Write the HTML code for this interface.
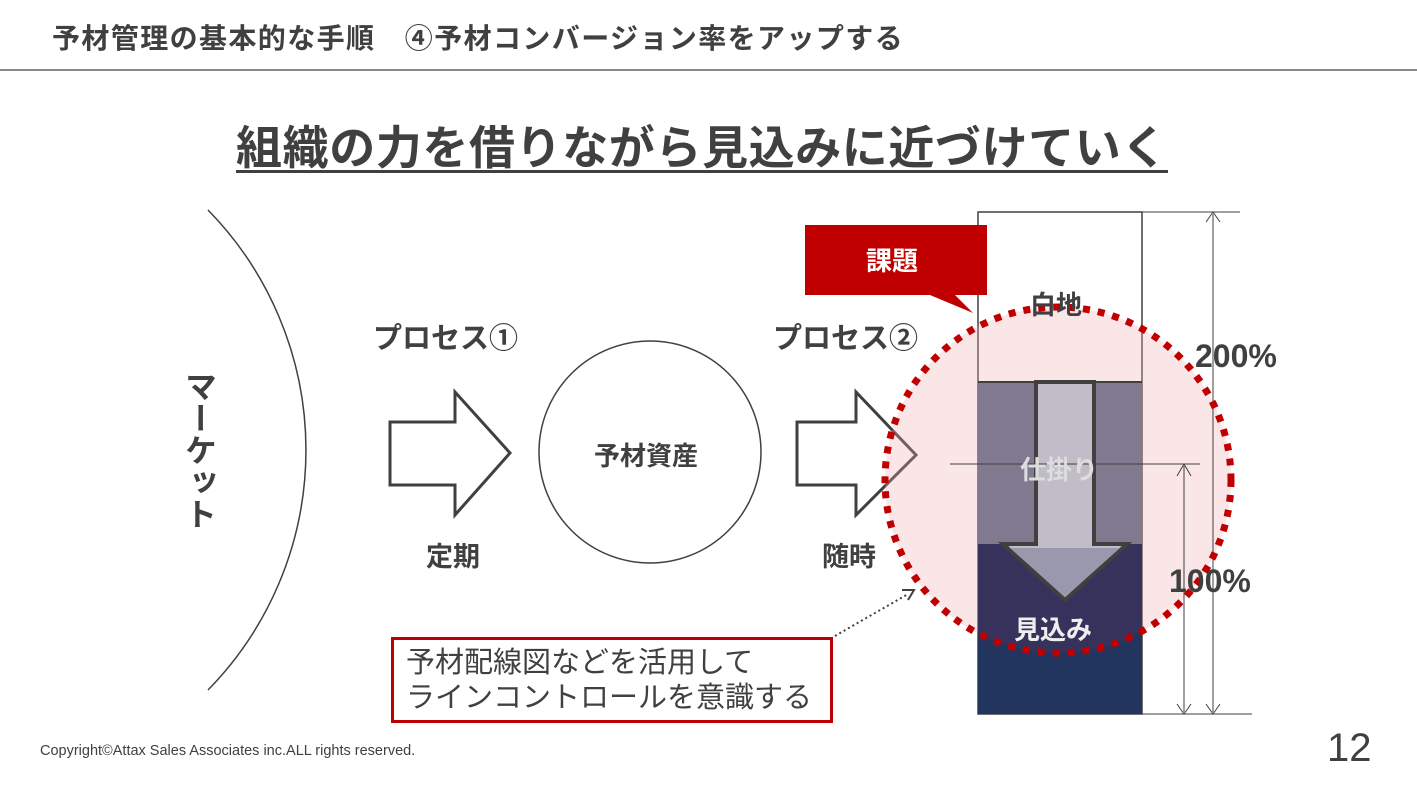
<!DOCTYPE html>
<html><head><meta charset="utf-8"><style>
body{margin:0;width:1417px;height:798px;background:#fff;overflow:hidden;font-family:"Liberation Sans","Noto Sans CJK JP",sans-serif;position:relative}
.t{position:absolute;white-space:nowrap;color:#404040;font-weight:bold}
</style></head><body>
<div class="t" style="left:52px;top:17px;font-size:28px;letter-spacing:1.4px">予材管理の基本的な手順　④予材コンバージョン率をアップする</div>
<div style="position:absolute;left:0;top:69px;width:1417px;height:2px;background:#888"></div>
<div class="t" style="left:236px;top:112px;font-size:46px;letter-spacing:0.6px;text-decoration:underline;text-decoration-thickness:3px;text-underline-offset:6px">組織の力を借りながら見込みに近づけていく</div>

<svg width="1417" height="798" style="position:absolute;left:0;top:0">
<defs><clipPath id="cc"><circle cx="1058" cy="480" r="173"/></clipPath></defs>
<path d="M208 210 A343 343 0 0 1 208 690" fill="none" stroke="#404040" stroke-width="1.5"/>
<polygon points="390,422 455,422 455,392 510,453 455,515 455,485 390,485" fill="#fff" stroke="#404040" stroke-width="3"/>
<circle cx="650" cy="452" r="111" fill="#fff" stroke="#404040" stroke-width="1.5"/>
<polygon points="797,422 856,422 856,392 916,455 856,515 856,485 797,485" fill="#fff" stroke="#404040" stroke-width="3"/>
<rect x="978" y="212" width="164" height="502" fill="#fff" stroke="#404040" stroke-width="1.5"/>
<circle cx="1058" cy="480" r="173" fill="rgba(240,170,175,0.3)"/>
<rect x="978" y="382" width="164" height="162" fill="#81798f"/>
<rect x="978" y="544" width="164" height="170" fill="#22355e"/>
<rect x="978" y="544" width="164" height="170" fill="#4a2f5a" opacity="0.5" clip-path="url(#cc)"/>
<line x1="978" y1="382" x2="1142" y2="382" stroke="#404040" stroke-width="2"/>
<line x1="1142" y1="212" x2="1240" y2="212" stroke="#404040" stroke-width="1"/>
<line x1="1142" y1="714" x2="1252" y2="714" stroke="#404040" stroke-width="1"/>
<line x1="1213" y1="214" x2="1213" y2="712" stroke="#404040" stroke-width="1"/>
<path d="M1206 222 L1213 212 L1220 222 M1206 704 L1213 714 L1220 704" fill="none" stroke="#404040"/>
<line x1="1184" y1="466" x2="1184" y2="712" stroke="#404040" stroke-width="1"/>
<path d="M1177 476 L1184 464 L1191 476 M1177 704 L1184 714 L1191 704" fill="none" stroke="#404040"/>
<polygon points="1036,382 1094,382 1094,544 1127,544 1065,600 1003,544 1036,544" fill="#c0bcc8" stroke="#404040" stroke-width="4"/>
<polygon points="1010,548 1120,548 1065,597" fill="#9a98ad"/>
<line x1="950" y1="464" x2="1200" y2="464" stroke="#404040" stroke-width="1"/>
<circle cx="1058" cy="480" r="173" fill="none" stroke="#c00000" stroke-width="7" stroke-dasharray="7 8"/>
<polygon points="805,225 987,225 987,295 955,295 973,313 930,295 805,295" fill="#c00000"/>
<line x1="835" y1="636" x2="908" y2="594" stroke="#404040" stroke-width="2" stroke-dasharray="2 3"/>
<path d="M902 590 L914 590 L908 600" fill="none" stroke="#404040" stroke-width="2"/>
</svg>

<div class="t" style="left:176px;top:370px;font-size:32px;writing-mode:vertical-rl;">マーケット</div>
<div class="t" style="left:373px;top:315px;font-size:29px;">プロセス①</div>
<div class="t" style="left:773px;top:315px;font-size:29px;">プロセス②</div>
<div class="t" style="left:426px;top:535px;font-size:27px;">定期</div>
<div class="t" style="left:822px;top:535px;font-size:27px;">随時</div>
<div class="t" style="left:594px;top:436px;font-size:26px;">予材資産</div>
<div class="t" style="left:866px;top:241px;font-size:26px;color:#fff">課題</div>
<div class="t" style="left:1030px;top:285px;font-size:26px;">白地</div>
<div class="t" style="left:1020px;top:450px;font-size:26px;color:#ddd">仕掛り</div>
<div class="t" style="left:1014px;top:610px;font-size:26px;color:#eee">見込み</div>
<div class="t" style="left:1195px;top:338px;font-size:32px;">200%</div>
<div class="t" style="left:1169px;top:563px;font-size:32px;">100%</div>
<div style="position:absolute;left:391px;top:637px;border:3px solid #c00000;background:#fff;font-size:29px;line-height:35px;color:#404040;padding:6px 0 0 12px;box-sizing:border-box;width:442px;height:86px;white-space:nowrap">予材配線図などを活用して<br>ラインコントロールを意識する</div>
<div class="t" style="left:40px;top:743px;font-size:14.5px;font-weight:normal">Copyright©Attax Sales Associates inc.ALL rights reserved.</div>
<div class="t" style="left:1327px;top:726px;font-size:40px;font-weight:normal">12</div>
</body></html>
